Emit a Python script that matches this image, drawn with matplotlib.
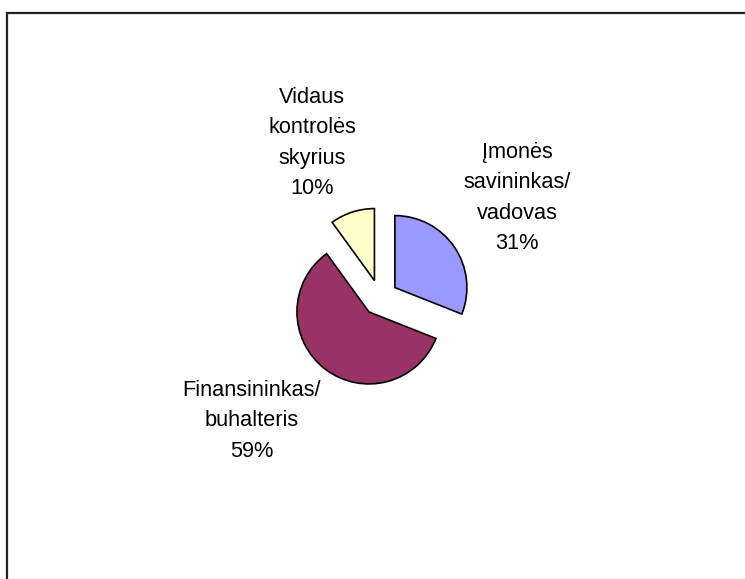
import matplotlib
matplotlib.use("Agg")
import matplotlib.pyplot as plt
from matplotlib.patches import Rectangle

# Respondents' answers: who is responsible for internal control
categories = ["Įmonės\nsavininkas/\nvadovas", "Finansininkas/\nbuhalteris", "Vidaus\nkontrolės\nskyrius"]
shares = [31, 59, 10]
colors = ["#9999FF", "#993366", "#FFFFCC"]

W, H = 745, 579
fig = plt.figure(figsize=(W / 100, H / 100), dpi=100)
fig.patch.set_facecolor("white")

# Axes in pixel units, y measured upward
ax = fig.add_axes([0, 0, 1, 1])
ax.set_xlim(0, W)
ax.set_ylim(0, H)
ax.set_aspect("equal")
ax.axis("off")

# Chart frame: only the top and left edges fall inside the canvas
fig.patches.append(Rectangle((7 / W, -0.1), 1.2, (H - 13) / H + 0.1,
                             transform=fig.transFigure, fill=False,
                             edgecolor="#222222", linewidth=1.6))

cx, cy, r = 380, H - 297.7, 72
# every slice pulled out by a quarter of the radius (explode is in data units here)
ax.pie(shares, colors=colors, startangle=90, counterclock=False,
       explode=[0.25 * r] * len(shares), center=(cx, cy), radius=r,
       wedgeprops=dict(edgecolor="black", linewidth=1.2),
       frame=True)
ax.set_xlim(0, W)
ax.set_ylim(0, H)
ax.axis("off")

# Data labels (category + percentage)
label_pos = [(517, H - 198), (252, H - 421), (312, H - 143)]
for name, val, (x, y) in zip(categories, shares, label_pos):
    ax.text(x, y, f"{name}\n{val}%", ha="center", va="center",
            fontsize=15.7, family="Liberation Sans", linespacing=1.6,
            color="black")

fig.savefig("out.png", dpi=100, facecolor="white")
